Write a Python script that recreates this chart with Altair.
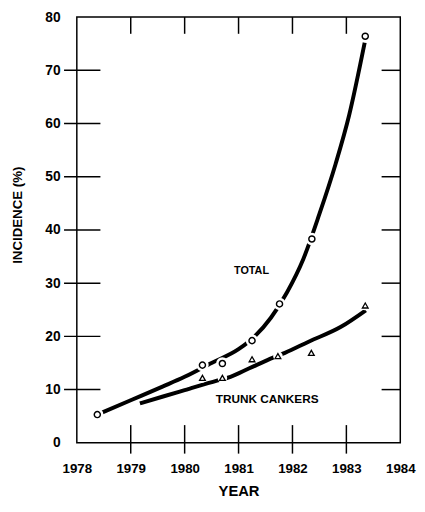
import altair as alt
import pandas as pd

# ---- axis tick values ----
x_ticks = [1978, 1979, 1980, 1981, 1982, 1983, 1984]
y_ticks = [0, 10, 20, 30, 40, 50, 60, 70, 80]
x_inner_ticks = [1979, 1980, 1981, 1982, 1983]
y_inner_ticks = [10, 20, 30, 40, 50, 60, 70]

# ---- observed points ----
total_years = [1978.38, 1980.33, 1980.70, 1981.25, 1981.76, 1982.36, 1983.35]
total_pct = [5.3, 14.6, 14.9, 19.2, 26.1, 38.3, 76.4]
trunk_years = [1980.33, 1980.70, 1981.25, 1981.73, 1982.35, 1983.35]
trunk_pct = [12.2, 12.2, 15.7, 16.3, 16.9, 25.8]

# ---- hand-fitted curves as drawn ----
curve_total_years = [1978.40, 1979.0, 1979.6, 1980.0, 1980.5, 1981.0, 1981.3,
                     1981.6, 1981.9, 1982.2, 1982.5, 1982.8, 1983.05, 1983.34]
curve_total_pct = [5.4, 8.0, 10.6, 12.4, 15.0, 17.6, 20.0,
                   23.5, 28.3, 34.5, 43.0, 52.4, 61.5, 75.2]
curve_trunk_years = [1979.17, 1979.6, 1980.0, 1980.6, 1980.85, 1981.2, 1981.64,
                     1981.86, 1982.3, 1982.9, 1983.36]
curve_trunk_pct = [7.4, 8.7, 9.9, 11.7, 12.4, 14.0, 16.0,
                   16.9, 19.0, 21.8, 24.9]

# ---- annotations ----
label_text = ["TOTAL", "TRUNK  CANKERS"]
label_year = [1981.24, 1981.53]
label_pct = [32.3, 8.2]

W, H = 329, 433
FONT = "Liberation Sans"
xs = alt.Scale(domain=[1978, 1984], nice=False, zero=False)
ys = alt.Scale(domain=[0, 80], nice=False, zero=True)


def X(axis=alt.Undefined):
    return alt.X("year:Q", scale=xs, axis=axis)


def Y(axis=alt.Undefined):
    return alt.Y("pct:Q", scale=ys, axis=axis)


x_axis = alt.Axis(values=x_ticks, format="d", ticks=False, tickSize=0, domain=False,
                  grid=False, labelFlush=False, labelOverlap=False, labelPadding=19,
                  labelFont=FONT, labelFontSize=13.5, labelFontWeight="bold",
                  labelColor="black", title="YEAR", titleFont=FONT, titleFontSize=15,
                  titleFontWeight="bold", titleColor="black", titleY=54,
                  titleBaseline="alphabetic")
y_axis = alt.Axis(values=y_ticks, format="d", ticks=False, tickSize=0, domain=False,
                  grid=False, labelFlush=False, labelOverlap=False, labelPadding=17,
                  labelFont=FONT, labelFontSize=14, labelFontWeight="bold",
                  labelColor="black", labelBaseline="middle",
                  title="INCIDENCE (%)", titleFont=FONT, titleFontSize=13.5,
                  titleFontWeight="bold", titleColor="black", titleX=-56, titleY=201,
                  titleBaseline="alphabetic", titleAlign="center", titleAngle=270)

df_total = pd.DataFrame({"year": total_years, "pct": total_pct})
df_trunk = pd.DataFrame({"year": trunk_years, "pct": trunk_pct})
df_ctotal = pd.DataFrame({"year": curve_total_years, "pct": curve_total_pct})
df_ctrunk = pd.DataFrame({"year": curve_trunk_years, "pct": curve_trunk_pct})

# observed total points carry the axes
pts_total = alt.Chart(df_total).mark_point(
    shape="circle", filled=False, color="black", opacity=1, size=38, strokeWidth=1.5
).encode(x=X(x_axis), y=Y(y_axis))

# tick marks (inside and crossing the frame)
left_ticks = alt.Chart(pd.DataFrame({"pct": y_inner_ticks})).mark_rule(
    color="black", strokeWidth=1.5).encode(y=Y(), x=alt.value(-13), x2=alt.value(24))
right_ticks = alt.Chart(pd.DataFrame({"pct": y_inner_ticks})).mark_rule(
    color="black", strokeWidth=1.5).encode(y=Y(), x=alt.value(W - 19), x2=alt.value(W))
bottom_ticks = alt.Chart(pd.DataFrame({"year": x_inner_ticks})).mark_rule(
    color="black", strokeWidth=1.5).encode(x=X(), y=alt.value(H - 18), y2=alt.value(H + 11))
top_ticks = alt.Chart(pd.DataFrame({"year": x_inner_ticks})).mark_rule(
    color="black", strokeWidth=1.5).encode(x=X(), y=alt.value(0), y2=alt.value(17))

line_total = alt.Chart(df_ctotal).mark_line(
    color="black", strokeWidth=4, interpolate="monotone").encode(x=X(), y=Y(), order="year:Q")
line_trunk = alt.Chart(df_ctrunk).mark_line(
    color="black", strokeWidth=4, interpolate="monotone").encode(x=X(), y=Y(), order="year:Q")

halo_total = alt.Chart(df_total).mark_point(
    shape="circle", filled=True, color="white", opacity=1, size=160).encode(x=X(), y=Y())
halo_trunk = alt.Chart(df_trunk).mark_point(
    shape="circle", filled=True, color="white", opacity=1, size=95).encode(x=X(), y=Y())

pts_trunk = alt.Chart(df_trunk).mark_point(
    shape="triangle-up", filled=False, color="black", opacity=1, size=34, strokeWidth=1.3
).encode(x=X(), y=Y())

df_lab = pd.DataFrame({"year": label_year, "pct": label_pct, "text": label_text})
lab_total = alt.Chart(df_lab.iloc[[0]]).mark_text(
    font=FONT, fontWeight="bold", fontSize=11, color="black", align="center",
    baseline="middle").encode(x=X(), y=Y(), text="text:N")
lab_trunk = alt.Chart(df_lab.iloc[[1]]).mark_text(
    font=FONT, fontWeight="bold", fontSize=12, color="black", align="center",
    baseline="middle").encode(x=X(), y=Y(), text="text:N")

chart = alt.layer(
    pts_total,
    left_ticks, right_ticks, bottom_ticks, top_ticks,
    line_total, line_trunk, halo_total, halo_trunk,
    pts_trunk, lab_total, lab_trunk,
    pts_total,
).properties(
    width=W, height=H,
    autosize=alt.AutoSizeParams(type="none"),
    padding={"left": 70, "top": 5, "right": 17, "bottom": 58},
    background="white",
).configure_view(stroke="black", strokeWidth=1.5)

chart.save("out.html", embed_options={"renderer": "svg", "actions": False})
